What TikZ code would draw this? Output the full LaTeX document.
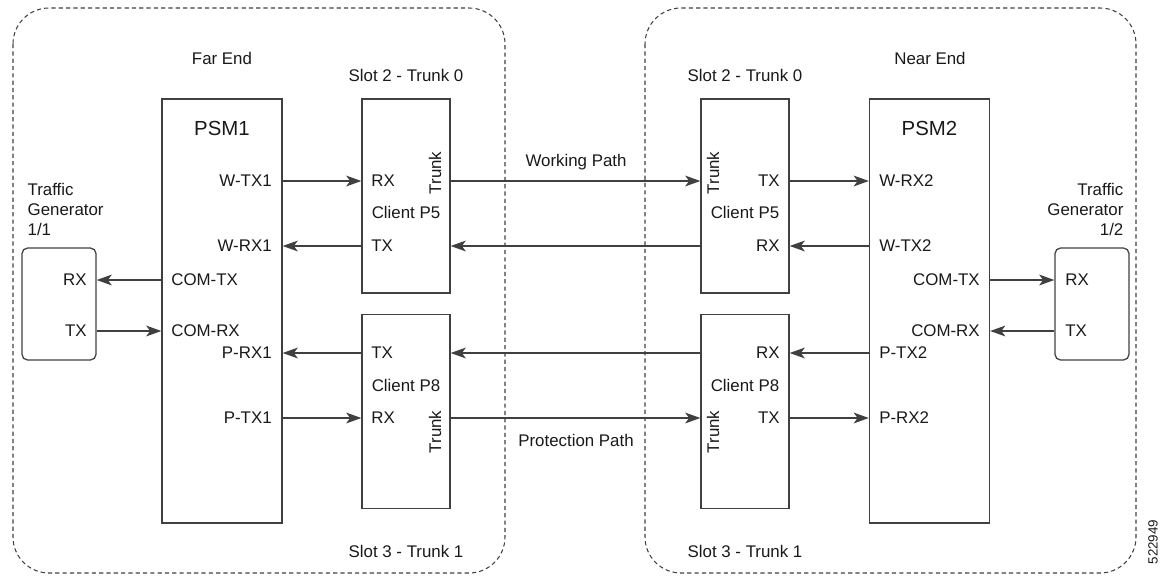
\documentclass[tikz,border=0pt]{standalone}
\usepackage{fontspec}
\setmainfont{Liberation Sans}
\usetikzlibrary{arrows.meta,positioning}

\tikzset{
	box/.style	= {draw=black!75, inner sep=0pt, minimum width=#1},
	psmbox/.style	= {box=3cm, minimum height=10.6cm},
	cardbox/.style	= {box=2.2cm, minimum height=4.85cm},
	genbox/.style	= {box=1.85cm, minimum height=2.8cm, rounded corners=0.14cm},
	frame/.style	= {draw=black!75, line width=0.75pt, dash pattern=on 3pt off 2.2pt, rounded corners=0.9cm},
	conn/.style	= {-{Stealth[length=0.38cm, width=0.27cm, inset=0.1cm]}, black!75},
	vlabel/.style	= {rotate=90},
}

\begin{document}
\begin{tikzpicture}[x=0.025cm, y=-0.025cm, line width=0.9pt, font=\fontsize{12}{14.2}\selectfont, text=black!90]
	\useasboundingbox (0,0) rectangle (1165,575);

	% the two sites
	\path[frame] (13,8) rectangle (505,573);
	\path[frame] (645,8) rectangle (1136,573);

	% boxes
	\node	(psm1)	[psmbox]	at (222,311)	{};
	\node	(psm2)	[psmbox]	at (929.5,311)	{};
	\node	(p5l)	[cardbox]	at (406,196)	{};
	\node	(p8l)	[cardbox]	at (406,411.5)	{};
	\node	(p5r)	[cardbox]	at (745,196)	{};
	\node	(p8r)	[cardbox]	at (745,411.5)	{};
	\node	(genl)	[genbox]	at (59,304)	{};
	\node	(genr)	[genbox]	at (1092,304)	{};

	% titles
	\node	(far)	at (222,58)	{Far End};
	\node	(near)	at (930,58)	{Near End};
	\node	(slot2l)	at (406,75)	{Slot 2 - Trunk 0};
	\node	(slot2r)	at (745,75)	{Slot 2 - Trunk 0};
	\node	(slot3l)	at (406,551)	{Slot 3 - Trunk 1};
	\node	(slot3r)	at (745,551)	{Slot 3 - Trunk 1};
	\node	(psm1t)	[below=0.45cm of psm1.north, font=\fontsize{14.5}{16}\selectfont]	{PSM1};
	\node	(psm2t)	[below=0.45cm of psm2.north, font=\fontsize{14.5}{16}\selectfont]	{PSM2};
	\node	(genlt)	[anchor=west, align=left, inner sep=0pt]	at (27,209)	{Traffic\\Generator\\1/1};
	\node	(genrt)	[anchor=east, align=right, inner sep=0pt]	at (1124,209)	{Traffic\\Generator\\1/2};
	\node	(work)	at (576,162)	{Working Path};
	\node	(prot)	at (576,440)	{Protection Path};
	\node	(fig)	[vlabel, font=\fontsize{9.5}{11}\selectfont]	at (1153,542)	{522949};

	% PSM1 ports
	\node	(wtx1)	[anchor=east]	at (277,181)	{W-TX1};
	\node	(wrx1)	[anchor=east]	at (277,246)	{W-RX1};
	\node	(comtx1)	[anchor=west]	at (166,280)	{COM-TX};
	\node	(comrx1)	[anchor=west]	at (166,331)	{COM-RX};
	\node	(prx1)	[anchor=east]	at (277,353)	{P-RX1};
	\node	(ptx1)	[anchor=east]	at (277,418)	{P-TX1};

	% PSM2 ports
	\node	(wrx2)	[anchor=west]	at (874,181)	{W-RX2};
	\node	(wtx2)	[anchor=west]	at (874,246)	{W-TX2};
	\node	(comtx2)	[anchor=east]	at (985,280)	{COM-TX};
	\node	(comrx2)	[anchor=east]	at (985,331)	{COM-RX};
	\node	(ptx2)	[anchor=west]	at (874,353)	{P-TX2};
	\node	(prx2)	[anchor=west]	at (874,418)	{P-RX2};

	% far end cards
	\node	(p5lrx)	[anchor=west]	at (366,181)	{RX};
	\node	(p5ltx)	[anchor=west]	at (366,246)	{TX};
	\node	(p5lc)	at (406,212)	{Client P5};
	\node	(p5lt)	[vlabel]	at (435,173)	{Trunk};
	\node	(p8ltx)	[anchor=west]	at (366,353)	{TX};
	\node	(p8lrx)	[anchor=west]	at (366,418)	{RX};
	\node	(p8lc)	at (406,385)	{Client P8};
	\node	(p8lt)	[vlabel]	at (435,432)	{Trunk};

	% near end cards
	\node	(p5rtx)	[anchor=east]	at (785,181)	{TX};
	\node	(p5rrx)	[anchor=east]	at (785,246)	{RX};
	\node	(p5rc)	at (745,212)	{Client P5};
	\node	(p5rt)	[vlabel]	at (713,173)	{Trunk};
	\node	(p8rrx)	[anchor=east]	at (785,353)	{RX};
	\node	(p8rtx)	[anchor=east]	at (785,418)	{TX};
	\node	(p8rc)	at (745,385)	{Client P8};
	\node	(p8rt)	[vlabel]	at (713,432)	{Trunk};

	% generators
	\node	(genlrx)	[anchor=east]	at (92,280)	{RX};
	\node	(genltx)	[anchor=east]	at (92,331)	{TX};
	\node	(genrrx)	[anchor=west]	at (1060,280)	{RX};
	\node	(genrtx)	[anchor=west]	at (1060,331)	{TX};

	\path [conn]
	(psm1.east |- wtx1)	edge	(p5l.west |- wtx1)
	(p5l.west |- wrx1)	edge	(psm1.east |- wrx1)
	(psm1.west |- comtx1)	edge	(genl.east |- comtx1)
	(genl.east |- comrx1)	edge	(psm1.west |- comrx1)
	(p8l.west |- prx1)	edge	(psm1.east |- prx1)
	(psm1.east |- ptx1)	edge	(p8l.west |- ptx1)
	(p5l.east |- wtx1)	edge	(p5r.west |- wtx1)
	(p5r.west |- wrx1)	edge	(p5l.east |- wrx1)
	(p8r.west |- prx1)	edge	(p8l.east |- prx1)
	(p8l.east |- ptx1)	edge	(p8r.west |- ptx1)
	(p5r.east |- wrx2)	edge	(psm2.west |- wrx2)
	(psm2.west |- wtx2)	edge	(p5r.east |- wtx2)
	(psm2.east |- comtx2)	edge	(genr.west |- comtx2)
	(genr.west |- comrx2)	edge	(psm2.east |- comrx2)
	(psm2.west |- ptx2)	edge	(p8r.east |- ptx2)
	(p8r.east |- prx2)	edge	(psm2.west |- prx2)
	;
\end{tikzpicture}
\end{document}
